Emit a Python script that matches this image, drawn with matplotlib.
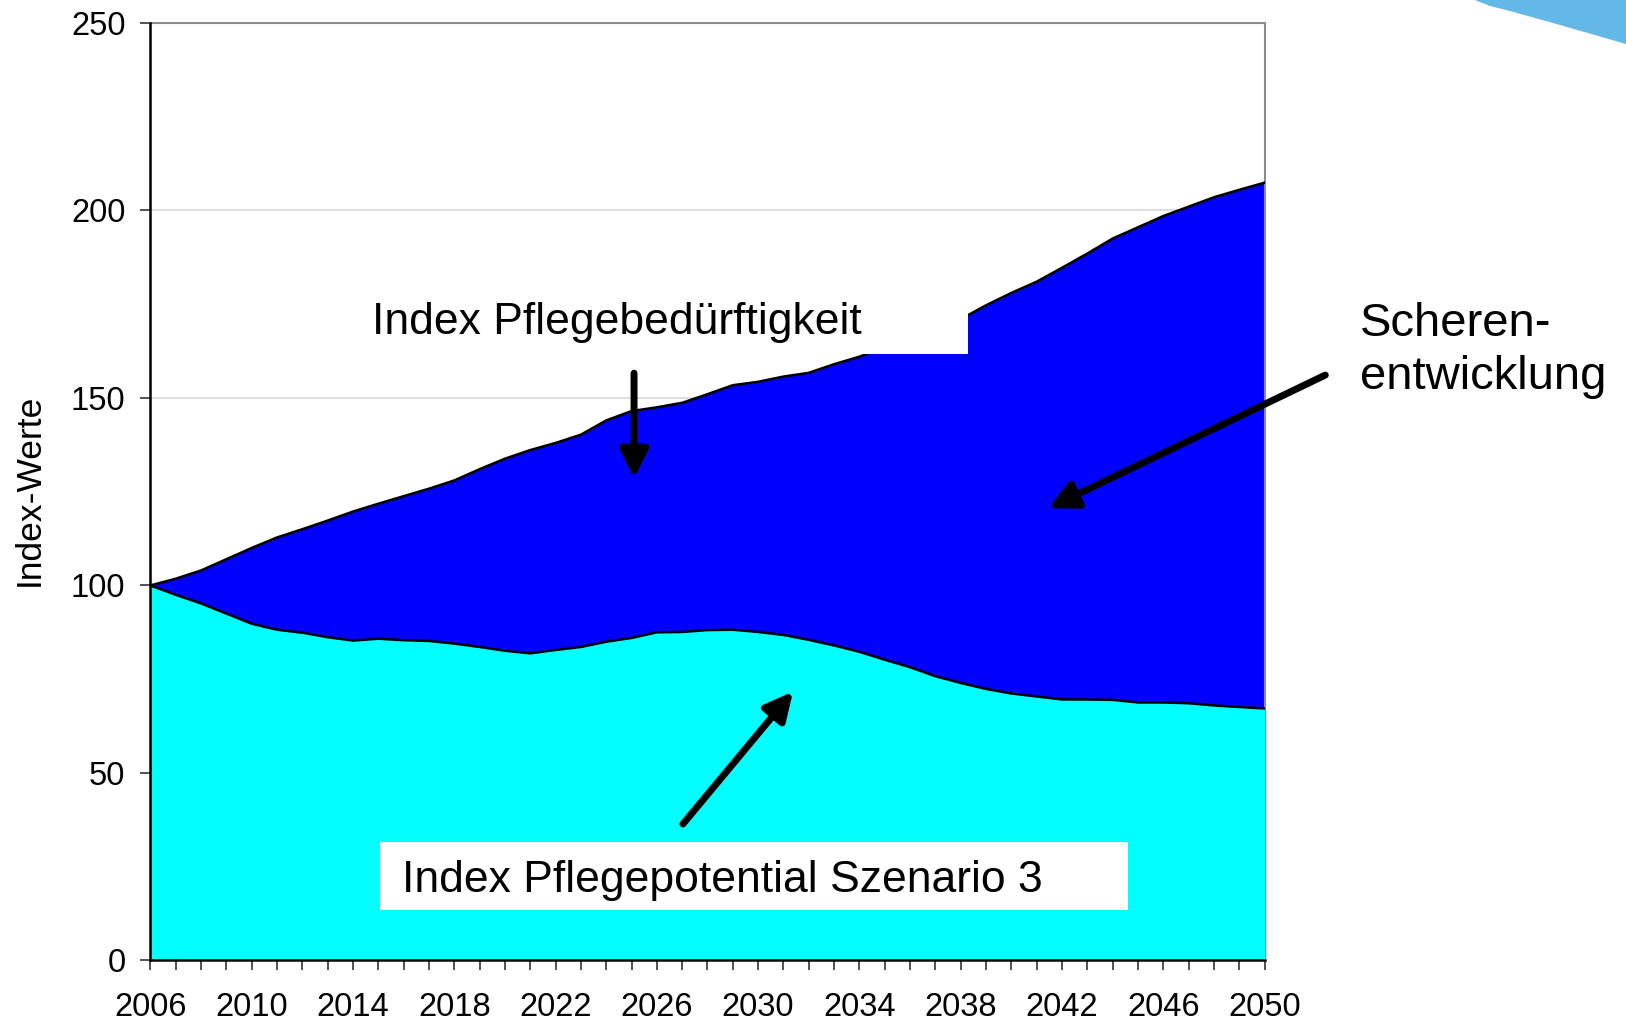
import matplotlib
matplotlib.use("Agg")
import matplotlib.pyplot as plt
from matplotlib.patches import Rectangle, Polygon

plt.rcParams['font.family'] = ['Liberation Sans', 'DejaVu Sans']

years = list(range(2006, 2051))

# Index Pflegebeduerftigkeit (upper area)
bedarf = [100, 101.8, 104.0, 107.0, 110, 112.8, 115, 117.3, 119.7, 121.8,
          123.8, 125.8, 128, 131, 133.8, 136.1, 138, 140.2, 144.0, 146.5,
          147.5, 148.7, 151, 153.4, 154.3, 155.7, 156.7, 159, 161, 163.5,
          166, 168.5, 171, 174.7, 178, 181, 184.7, 188.5, 192.5, 195.5,
          198.5, 201, 203.5, 205.5, 207.4]

# Index Pflegepotential Szenario 3 (lower area)
potential = [100, 97.5, 95.2, 92.5, 89.8, 88.2, 87.4, 86.2, 85.3, 85.8,
             85.4, 85.2, 84.5, 83.6, 82.6, 81.9, 82.8, 83.6, 85.0, 86.0,
             87.5, 87.6, 88.1, 88.2, 87.6, 86.8, 85.5, 84.0, 82.3, 80.2,
             78.2, 75.8, 74.0, 72.4, 71.2, 70.4, 69.6, 69.6, 69.5, 68.8,
             68.8, 68.6, 68.0, 67.6, 67.2]

yticks = [0, 50, 100, 150, 200, 250]
xlabels = list(range(2006, 2051, 4))

fig = plt.figure(figsize=(16.26, 10.23), dpi=100)
ax = fig.add_axes([0.0925, 0.0611, 0.6852, 0.9165])

ax.fill_between(years, 0, bedarf, color='#0000FF', lw=0, zorder=2)
ax.fill_between(years, 0, potential, color='#00FFFF', lw=0, zorder=3)
ax.plot(years, bedarf, color='k', lw=1.8, zorder=4)
ax.plot(years, potential, color='k', lw=1.8, zorder=4)

ax.set_xlim(2006, 2050)
ax.set_ylim(0, 250)
ax.set_yticks(yticks)
ax.set_xticks(xlabels)
ax.set_xticks(years, minor=True)
ax.grid(axis='y', color='#d9d9d9', lw=1.2, zorder=0)
ax.set_axisbelow(True)
ax.tick_params(axis='both', which='both', direction='out', length=7,
               width=1.2, labelsize=23.5, color='#333333')
ax.tick_params(axis='y', pad=11)
ax.tick_params(axis='x', pad=16)

fig.text(29 / 1626, 1 - 490 / 1023, 'Index-Werte', fontsize=25.5,
         rotation=90, ha='center', va='center')

for s in ['left', 'bottom']:
    ax.spines[s].set_color('k')
    ax.spines[s].set_linewidth(1.8)
    ax.spines[s].set_zorder(5)
for s in ['top', 'right']:
    ax.spines[s].set_color('#8c8c8c')
    ax.spines[s].set_linewidth(1.5)

# white label box hiding part of the upper curve (as in the original)
ax.add_patch(Rectangle((2014.4, 161.6), 2038.3 - 2014.4, 17,
                       facecolor='white', edgecolor='none', zorder=6))
ax.text(2014.75, 167.0, 'Index Pflegebedürftigkeit', fontsize=32,
        va='baseline', ha='left', zorder=7)

ax.add_patch(Rectangle((2015.07, 13.4), 2044.59 - 2015.07, 31.65 - 13.4,
                       facecolor='white', edgecolor='none', zorder=6))
ax.text(2015.95, 18.3, 'Index Pflegepotential Szenario 3', fontsize=32,
        va='baseline', ha='left', zorder=7)

arrow = dict(arrowstyle='-|>', lw=5, color='k', mutation_scale=42,
             shrinkA=0, shrinkB=0)
ax.annotate('', xy=(2025.1, 128.6), xytext=(2025.1, 156.6),
            arrowprops=arrow, zorder=8)
ax.annotate('', xy=(2031.38, 71.7), xytext=(2027.03, 36.4),
            arrowprops=arrow, zorder=8)
ax.annotate('', xy=(2041.46, 120.6), xytext=(2052.4, 156.1),
            arrowprops=arrow, zorder=8, annotation_clip=False)

fig.text(1360 / 1626, 1 - 336 / 1023, 'Scheren-', fontsize=34,
         va='baseline', ha='left')
fig.text(1360 / 1626, 1 - 389 / 1023, 'entwicklung', fontsize=34,
         va='baseline', ha='left')

# light blue decoration in the top right corner
deco = [(1475, 0), (1490, 6), (1510, 11), (1560, 25), (1626, 44),
        (1626, 0)]
fig.patches.append(Polygon([(x / 1626, 1 - y / 1023) for x, y in deco],
                           closed=True, facecolor='#62B8E6',
                           edgecolor='none', transform=fig.transFigure))

fig.savefig('out.png', dpi=100)
